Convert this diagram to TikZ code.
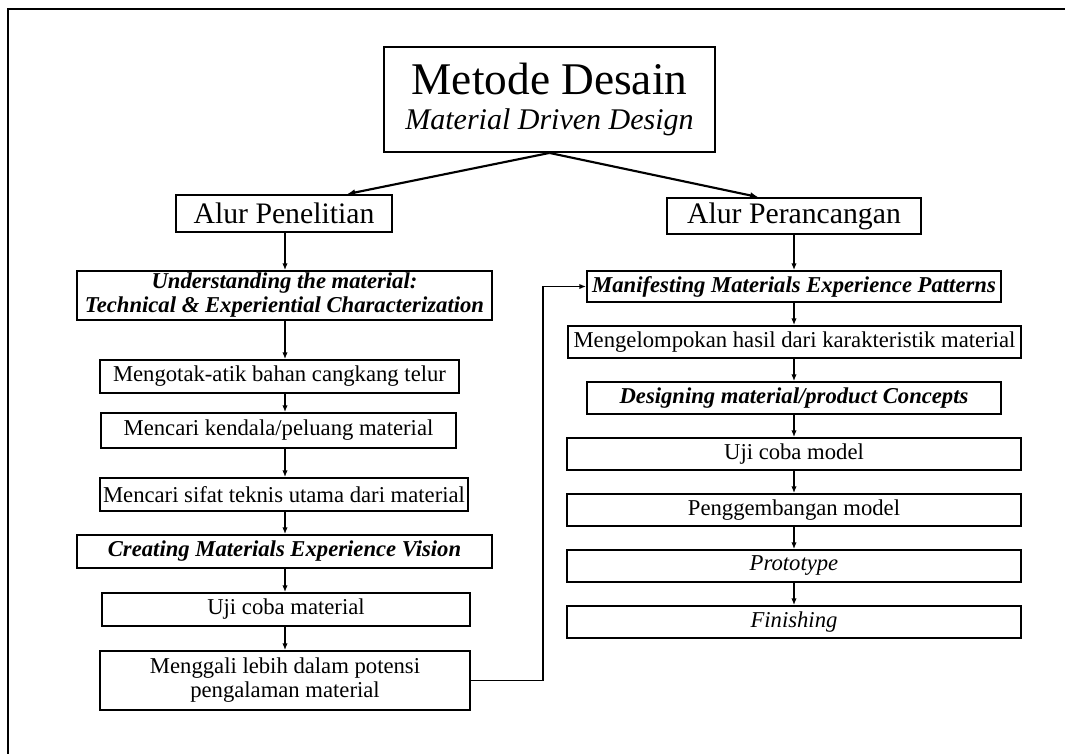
\documentclass[tikz,border=0pt]{standalone}
\usepackage{fontspec}
\setmainfont{Liberation Serif}
\usetikzlibrary{calc,positioning,arrows.meta}

\begin{document}
\begin{tikzpicture}[x=0.75pt,y=-0.75pt,
    kotak/.style={draw, line width=1.4pt, inner sep=0pt, align=center,
        font=\fontsize{17}{18}\selectfont},
    judul/.style={kotak, font=\fontsize{22.3}{26}\selectfont},
    tebal/.style={kotak, font=\fontsize{17}{18}\selectfont\bfseries\itshape},
    panah/.style={line width=1.2pt, -{Latex[length=5pt,width=4pt]}},
    panahbesar/.style={line width=1.6pt, -{Latex[length=6pt,width=5pt]}}]
        \useasboundingbox (0,0) rectangle (1065,754);
        \draw[line width=1.5pt] (8,754) -- (8,9) -- (1065,9);

        % bagian atas
        \node[kotak, minimum width=248.25pt, minimum height=78.75pt] (metode) at (549.5,99.5)
            {{\fontsize{34}{38}\selectfont Metode Desain}\\[8.25pt]
             {\fontsize{22.5}{26}\selectfont\itshape Material Driven Design}};
        \node[judul, minimum width=162pt, minimum height=27.75pt] (pen) at (284,213.5) {Alur Penelitian};
        \node[judul, minimum width=190.5pt, minimum height=27pt] (per) at (794,216) {Alur Perancangan};
        \draw[panahbesar] (metode.south) -- ($(pen.north west)!.79!(pen.north east)$);
        \draw[panahbesar] (metode.south) -- ($(per.north west)!.36!(per.north east)$);

        % alur penelitian
        \coordinate (kiri) at (285,0);
        \node[tebal, minimum width=311.25pt, minimum height=36.75pt] (und) at (284.5,295.5)
            {Understanding the material:\\Technical \& Experiential Characterization};
        \node[kotak, minimum width=269.25pt, minimum height=24.75pt] (otak) at (279.5,376.5) {Mengotak-atik bahan cangkang telur};
        \node[kotak, minimum width=266.25pt, minimum height=26.25pt] (kendala) at (278.5,430.5) {Mencari kendala/peluang material};
        \node[kotak, minimum width=276pt, minimum height=24.75pt] (sifat) at (284,494.5) {Mencari sifat teknis utama dari material};
        \node[tebal, minimum width=311.25pt, minimum height=24.75pt] (creating) at (284.5,551.5) {Creating Materials Experience Vision};
        \node[kotak, minimum width=276pt, minimum height=24.75pt] (ujimat) at (286,609.5) {Uji coba material};
        \node[kotak, minimum width=277.5pt, minimum height=44.25pt] (gali) at (285,680.5)
            {Menggali lebih dalam potensi\\pengalaman material};
        \draw[panah] (kiri |- pen.south) -- (kiri |- und.north);
        \draw[panah] (kiri |- und.south) -- (kiri |- otak.north);
        \draw[panah] (kiri |- otak.south) -- (kiri |- kendala.north);
        \draw[panah] (kiri |- kendala.south) -- (kiri |- sifat.north);
        \draw[panah] (kiri |- sifat.south) -- (kiri |- creating.north);
        \draw[panah] (kiri |- creating.south) -- (kiri |- ujimat.north);
        \draw[panah] (kiri |- ujimat.south) -- (kiri |- gali.north);

        % alur perancangan
        \coordinate (kanan) at (794,0);
        \coordinate (belok) at (543,0);
        \node[tebal, minimum width=310.5pt, minimum height=23.25pt] (manif) at (794,286.5) {Manifesting Materials Experience Patterns};
        \node[kotak, minimum width=339.75pt, minimum height=24pt] (kelompok) at (794.5,342) {Mengelompokan hasil dari karakteristik material};
        \node[tebal, minimum width=310.5pt, minimum height=24pt] (desain) at (794,398) {Designing material/product Concepts};
        \node[kotak, minimum width=340.5pt, minimum height=24pt] (ujimod) at (794,454) {Uji coba model};
        \node[kotak, minimum width=340.5pt, minimum height=24pt] (kembang) at (794,510) {Penggembangan model};
        \node[kotak, minimum width=340.5pt, minimum height=24pt] (proto) at (794,566) {\itshape Prototype};
        \node[kotak, minimum width=340.5pt, minimum height=24pt] (finish) at (794,622) {\itshape Finishing};
        \draw[panah] (kanan |- per.south) -- (kanan |- manif.north);
        \draw[panah] (kanan |- manif.south) -- (kanan |- kelompok.north);
        \draw[panah] (kanan |- kelompok.south) -- (kanan |- desain.north);
        \draw[panah] (kanan |- desain.south) -- (kanan |- ujimod.north);
        \draw[panah] (kanan |- ujimod.south) -- (kanan |- kembang.north);
        \draw[panah] (kanan |- kembang.south) -- (kanan |- proto.north);
        \draw[panah] (kanan |- proto.south) -- (kanan |- finish.north);

        \draw[panah] (gali.east) -- (gali.east -| belok) -- (belok |- manif.west) -- (manif.west);
\end{tikzpicture}
\end{document}
